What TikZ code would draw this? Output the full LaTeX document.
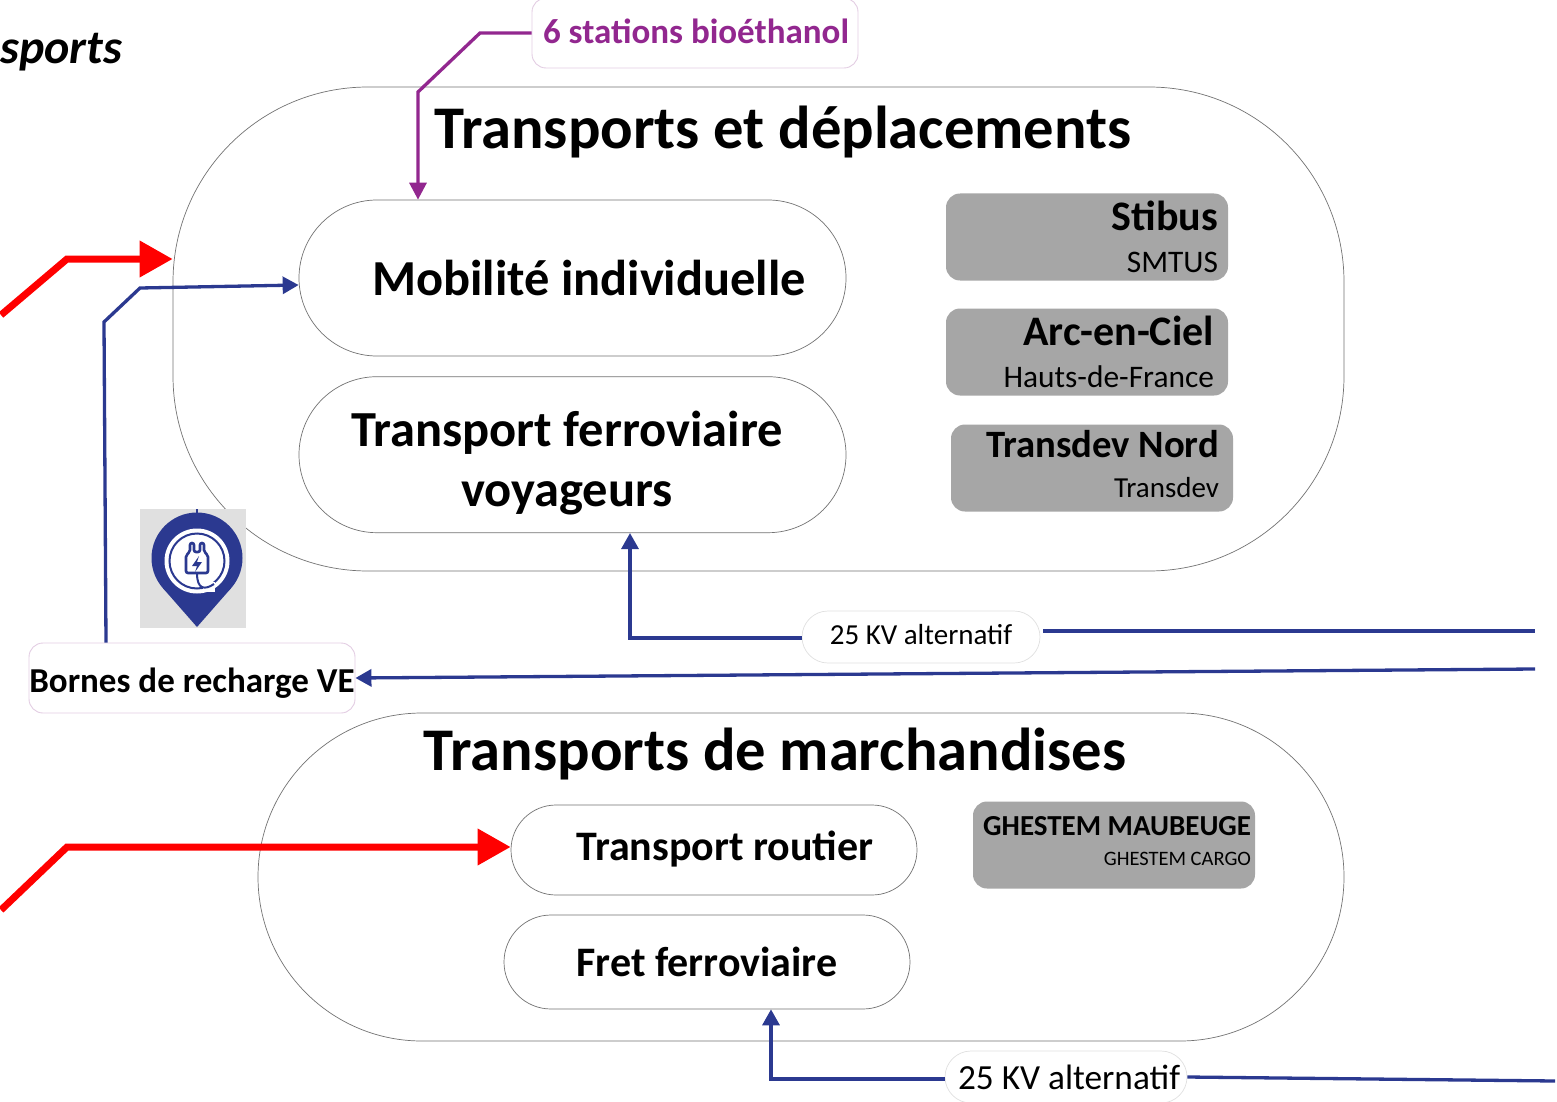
\documentclass[tikz,border=0pt]{standalone}
\usepackage{fontspec}
\setmainfont{Carlito}
\usetikzlibrary{positioning, arrows.meta}
\definecolor{linkblue}{HTML}{2B3990}
\definecolor{linkpurple}{HTML}{92278F}
\definecolor{palepink}{HTML}{E3CDE3}
\definecolor{boxgrey}{HTML}{A6A6A6}
\tikzset{
    x=1pt, y=-1pt,
    outer/.style={draw=black!55, line width=0.7pt, fill=white}, % the two big frames
    pill/.style={draw=black!55, line width=0.7pt, fill=white, align=center, font=\bfseries\fontsize{42}{60}\selectfont},
    greybox/.style={fill=boxgrey, rounded corners=14pt, minimum width=282pt, minimum height=87pt},
    greytext/.style={anchor=east, inner sep=0pt, align=right, font=\fontsize{31.4}{42}\selectfont},
    title/.style={font=\bfseries\fontsize{60.6}{64}\selectfont, inner sep=0pt},
    tag/.style={draw=palepink, line width=0.9pt, fill=white, rounded corners=14pt, minimum width=326pt, minimum height=70pt},
    tagtext/.style={inner sep=0pt, font=\bfseries\fontsize{35}{38}\selectfont},
    kv/.style={draw=black!12, line width=0.7pt, fill=white, rounded corners=26pt, minimum height=52pt},
    kvtext/.style={inner sep=0pt},
    bluearrow/.style={draw=linkblue, line width=3.3pt, -{Triangle[length=16pt,width=17pt]}},
    blueplain/.style={draw=linkblue, line width=3.3pt},
    purplearrow/.style={draw=linkpurple, line width=3.3pt, -{Triangle[length=17pt,width=17pt]}},
    redarrow/.style={draw=red, line width=7pt, -{Triangle[length=33pt,width=35pt]}},
}
\newcommand{\boxhead}[2][42]{{\bfseries\fontsize{#1}{42}\selectfont #2}}
\begin{document}
\begin{tikzpicture}
    \useasboundingbox (0,0) rectangle (1557,1102);

    \node[anchor=west, inner sep=0pt, font=\bfseries\itshape\fontsize{48}{52}\selectfont] (sports) at (0,52) {sports};

    % upper frame
    \node[outer, minimum width=1171pt, minimum height=484pt, rounded corners=195pt] (transports) at (758.5,329) {};
    \node[title] (transportsTitle) at (783,132) {Transports et déplacements};
    \node[pill, minimum width=547pt, minimum height=156pt, rounded corners=78pt] (mobilite) at (572.5,278) {};
    \node[inner sep=0pt, font=\bfseries\fontsize{50.4}{54}\selectfont] (mobiliteText) at (589,278) {Mobilité individuelle};
    \node[pill, minimum width=547pt, minimum height=156pt, rounded corners=78pt, below=20pt of mobilite] (voyageurs) {};
    \node[align=center, inner sep=0pt, font=\bfseries\fontsize{50.5}{60.5}\selectfont] (voyageursText) at (567,463) {Transport ferroviaire\\voyageurs};

    \node[greybox] (stibus) at (1087,237) {};
    \node[greytext] (stibusText) at ([xshift=-10pt]stibus.east) {\boxhead{Stibus}\\SMTUS};
    \node[greybox] (arc) at (1087,352) {};
    \node[greytext] (arcText) at ([xshift=-14pt]arc.east) {\boxhead{Arc-en-Ciel}\\Hauts-de-France};
    \node[greybox] (transdev) at (1092,468) {};
    \node[greytext, font=\fontsize{29}{40}\selectfont] (transdevText) at ([xshift=-14pt,yshift=4pt]transdev.east) {\boxhead[38.7]{Transdev Nord}\\Transdev};

    % lower frame
    \node[outer, minimum width=1086pt, minimum height=328pt, rounded corners=164pt] (marchandises) at (801,877) {};
    \node[title] (marchandisesTitle) at (775,754) {Transports de marchandises};
    \node[pill, minimum width=406pt, minimum height=90pt, rounded corners=45pt] (routier) at (714,850) {};
    \node[inner sep=0pt, font=\bfseries\fontsize{42}{44}\selectfont] (routierText) at (725,849) {Transport routier};
    \node[pill, minimum width=406pt, minimum height=94pt, rounded corners=47pt] (fret) at (707,962) {Fret ferroviaire};
    \node[greybox] (ghestem) at (1114,845) {};
    \node[greytext, font=\fontsize{20.5}{30}\selectfont] (ghestemText) at ([xshift=-4pt,yshift=4pt]ghestem.east) {\boxhead[29]{GHESTEM MAUBEUGE}\\GHESTEM CARGO};

    % small boxes
    \node[tag] (stations) at (695,33) {};
    \node[tagtext, text=linkpurple] (stationsText) at ([xshift=1pt,yshift=2pt]stations.center) {6 stations bioéthanol};
    \node[tag] (bornes) at (192,678) {};
    \node[tagtext] (bornesText) at ([yshift=-5pt]bornes.center) {Bornes de recharge VE};
    \node[kv, minimum width=238pt] (kvUp) at (921,637) {};
    \node[kvtext, font=\fontsize{29}{30}\selectfont] (kvUpText) at ([yshift=2pt]kvUp.center) {25 KV alternatif};
    \node[kv, minimum width=242pt] (kvDown) at (1066,1077) {};
    \node[kvtext, font=\fontsize{35.3}{38}\selectfont] (kvDownText) at ([xshift=3pt]kvDown.center) {25 KV alternatif};

    % free ends and bends
    \coordinate (redUpStart) at (1,315);
    \coordinate (redUpBend) at (67,259);
    \coordinate (redDownStart) at (1,910);
    \coordinate (redDownBend) at (67,847);
    \coordinate (bornesBendA) at (104,322);
    \coordinate (bornesBendB) at (140,288);
    \coordinate (stationsBendA) at (480,33);
    \coordinate (stationsBendB) at (418,92);
    \coordinate (kvUpBend) at (630,638);
    \coordinate (kvUpEnd) at (1535,631);
    \coordinate (bornesEnd) at (1535,669);
    \coordinate (kvDownBend) at (771,1079);
    \coordinate (kvDownEnd) at (1555,1081);

    \draw[redarrow] (redUpStart) -- (redUpBend) -- (redUpBend -| transports.west);
    \draw[redarrow] (redDownStart) -- (redDownBend) -- (redDownBend -| routier.west);
    \draw[bluearrow] ([xshift=-86pt]bornes.north) -- (bornesBendA) -- (bornesBendB) -- ([yshift=-7pt]mobilite.west);
    \draw[purplearrow] (stations.west) -- (stationsBendA) -- (stationsBendB) -- (stationsBendB |- mobilite.north);
    \draw[bluearrow] (kvUp.west |- kvUpBend) -- (kvUpBend) -- (kvUpBend |- voyageurs.south);
    \draw[blueplain] ([xshift=3pt]kvUp.east |- kvUpEnd) -- (kvUpEnd);
    \draw[bluearrow] (bornesEnd) -- (bornes.east);
    \draw[bluearrow] (kvDown.west |- kvDownBend) -- (kvDownBend) -- (kvDownBend |- fret.south);
    \draw[blueplain] (kvDown.east) -- (kvDownEnd);

    % charging point icon
    \fill[black!12] (140,509) rectangle (246,628);
    \draw[linkblue, line width=1.5pt] (197,509) -- (197,514);
    \fill[linkblue] (197,558) circle[radius=45.5pt];
    \fill[linkblue] (197,627) -- (162.8,588) -- (231.2,588) -- cycle;
    \fill[white] (197,561) circle[radius=32.5pt];
    \draw[linkblue, line width=2pt] (197,561) circle[radius=27.5pt];
    \fill[white] (203,582) rectangle (215,592);
    \draw[linkblue, line width=2.6pt, rounded corners=2pt, fill=white] (186,555) -- (190,552) -- (190,543) -- (194,543) -- (194,552) -- (200,552) -- (200,543) -- (204,543) -- (204,552) -- (208,555) -- (208,573) -- (186,573) -- cycle;
    \fill[linkblue] (199,556) -- (192,566) -- (197,566) -- (195,572) -- (202,562) -- (197,562) -- cycle;
    \draw[linkblue, line width=2pt] (197,573) .. controls (197,590) and (205,590) .. (214,584);
\end{tikzpicture}
\end{document}
